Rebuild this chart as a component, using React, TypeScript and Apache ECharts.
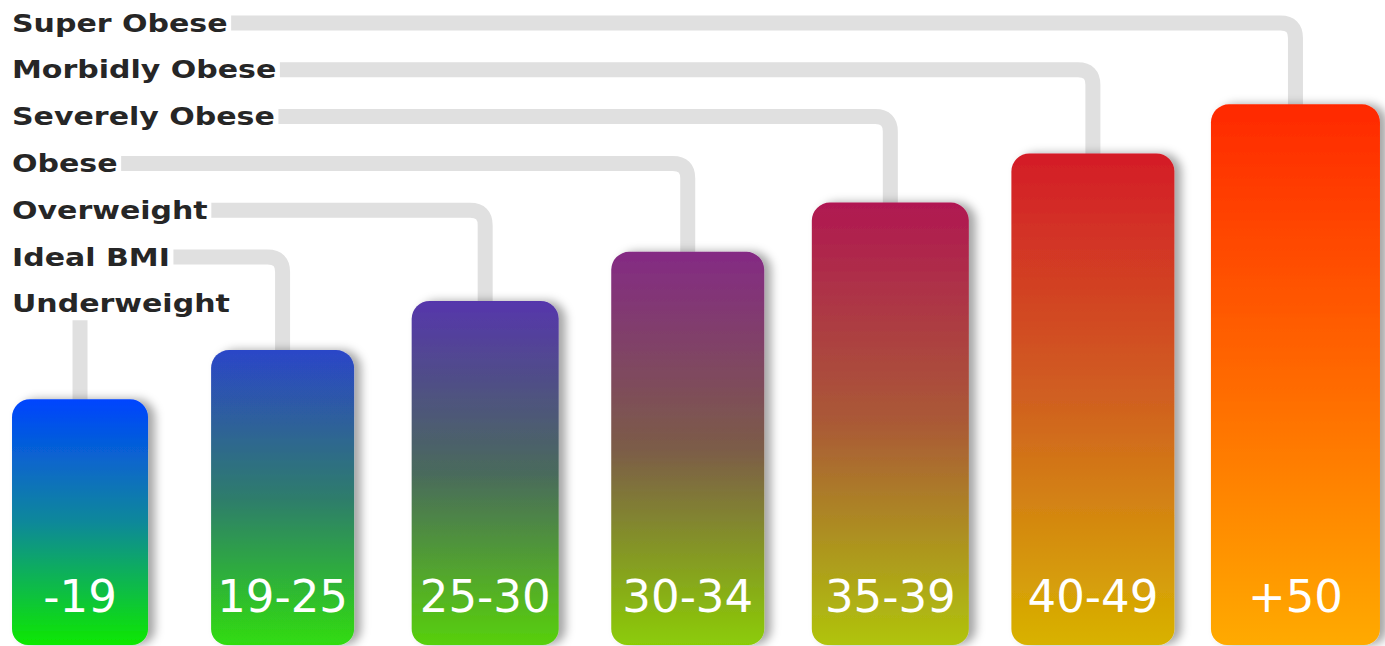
import React, { useEffect, useRef } from 'react';
import * as echarts from 'echarts';

// BMI ranges (bar labels), classes (left labels) and bar levels
const categories = ['-19', '19-25', '25-30', '30-34', '35-39', '40-49', '+50'];
const classes = ['Underweight', 'Ideal BMI', 'Overweight', 'Obese', 'Severely Obese', 'Morbidly Obese', 'Super Obese'];
const levels = [5, 6, 7, 8, 9, 10, 11];

// styles
const BAR_WIDTHS = [136, 143, 147, 153, 157, 163, 169];
const GRADIENTS = [
  ['#0044ff', '#10889a', '#10e800'],
  ['#2c46c8', '#2e7c6c', '#30dc10'],
  ['#5536ac', '#4a6a5c', '#58d00c'],
  ['#842a84', '#7c5c48', '#8ccc06'],
  ['#b01852', '#aa5a36', '#b0c40c'],
  ['#d41c28', '#d06020', '#d8b200'],
  ['#ff2800', '#ff6800', '#ffaa00'],
];
const ROW_TOP = 23;
const ROW_STEP = 46.8;
const LINE_COLOR = '#e0e0e0';

export default function App() {
  const ref = useRef<HTMLDivElement>(null);
  useEffect(() => {
    if (!ref.current) return;
    const chart = echarts.init(ref.current, null, { renderer: 'svg' });
    const n = categories.length;
    const option: any = {
      animation: false,
      backgroundColor: '#ffffff',
      grid: { left: 0, right: 0, top: 6, bottom: 1 },
      xAxis: { type: 'value', min: -0.395, max: 6.442, show: false },
      yAxis: { type: 'value', min: 0, max: 13, show: false },
      series: [
        {
          type: 'custom',
          clip: false,
          data: levels.map((v, i) => [i, v]),
          renderItem: (params: any, api: any) => {
            const i = api.value(0);
            const v = api.value(1);
            const top = api.coord([i, v]);
            const base = api.coord([i, 0]);
            const w = BAR_WIDTHS[i];
            const cx = top[0];
            const rowY = ROW_TOP + (n - 1 - i) * ROW_STEP;
            const r = 15;
            const pathData = `M 12 ${rowY} L ${cx - r} ${rowY} Q ${cx} ${rowY} ${cx} ${rowY + r} L ${cx} ${top[1] + 6}`;
            const g = GRADIENTS[i];
            return {
              type: 'group',
              children: [
                {
                  type: 'path',
                  shape: { pathData },
                  style: { fill: 'none', stroke: LINE_COLOR, lineWidth: 15 },
                },
                {
                  type: 'text',
                  x: 12,
                  y: rowY,
                  scaleX: 1.2,
                  style: {
                    text: classes[i],
                    fill: '#262626',
                    fontFamily: 'DejaVu Sans',
                    fontWeight: 'bold',
                    fontSize: 25,
                    align: 'left',
                    verticalAlign: 'middle',
                    backgroundColor: '#ffffff',
                    padding: [4, 3, 4, 0],
                  },
                },
                {
                  type: 'rect',
                  shape: { x: cx - w / 2, y: top[1], width: w, height: base[1] - top[1], r: [18, 18, 16, 16] },
                  style: {
                    fill: {
                      type: 'linear', x: 0, y: 0, x2: 0, y2: 1,
                      colorStops: [
                        { offset: 0, color: g[0] },
                        { offset: 0.5, color: g[1] },
                        { offset: 1, color: g[2] },
                      ],
                    },
                    shadowBlur: 10,
                    shadowOffsetX: 7,
                    shadowOffsetY: 0,
                    shadowColor: 'rgba(0,0,0,0.35)',
                  },
                },
                {
                  type: 'text',
                  x: cx,
                  y: base[1] - 49,
                  style: {
                    text: categories[i],
                    fill: '#ffffff',
                    fontFamily: 'DejaVu Sans',
                    fontSize: 45,
                    align: 'center',
                    verticalAlign: 'middle',
                  },
                },
              ],
            };
          },
        },
      ],
    };
    chart.setOption(option);
    return () => chart.dispose();
  }, []);
  return (
    <div
      ref={ref}
      style={{ position: 'fixed', left: 0, top: 0, width: 1385, height: 646 }}
    />
  );
}
